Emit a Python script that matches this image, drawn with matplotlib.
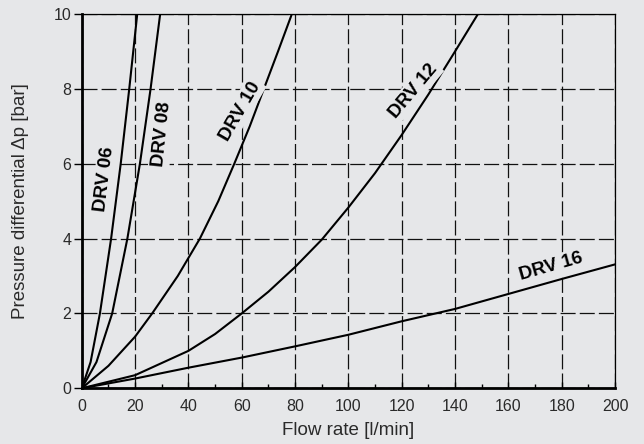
import matplotlib
matplotlib.use("Agg")
import matplotlib.pyplot as plt
from matplotlib.ticker import MultipleLocator

BG = "#e6e7e9"
plt.rcParams["font.family"] = ["Liberation Sans", "DejaVu Sans"]

# curves: flow [l/min] vs pressure differential [bar]
drv06_q = [0, 3.3, 6.8, 11.0, 14.6, 17.8, 20.8]
drv06_p = [0, 0.7, 2, 4, 6, 8, 10]
drv08_q = [0, 5.5, 11.4, 17.1, 21.8, 25.8, 29.4]
drv08_p = [0, 0.7, 2, 4, 6, 8, 10]
drv10_q = [0, 10, 20, 26.4, 36, 44.3, 51.2, 57.2, 63, 68.3, 73.6, 78.8]
drv10_p = [0, 0.6, 1.38, 2.0, 3.0, 4.0, 5.0, 6.0, 7.0, 8.0, 9.0, 10.0]
drv12_q = [0, 20, 40, 50, 60, 70, 80, 90, 100, 110, 120, 130, 140, 148.6]
drv12_p = [0, 0.35, 1.0, 1.45, 2.0, 2.58, 3.24, 3.97, 4.83, 5.75, 6.77, 7.85, 9.0, 10.0]
drv16_q = [0, 20, 40, 60, 80, 100, 120, 140, 160, 180, 200]
drv16_p = [0, 0.26, 0.55, 0.82, 1.12, 1.43, 1.79, 2.12, 2.52, 2.92, 3.31]

labels = ["DRV 06", "DRV 08", "DRV 10", "DRV 12", "DRV 16"]
label_q = [8.6, 30.1, 59.3, 124.5, 176]
label_p = [5.6, 6.8, 7.4, 7.95, 3.25]
label_rot = [83, 84, 60, 50, 16]

fig = plt.figure(figsize=(6.44, 4.44), dpi=100, facecolor=BG)
ax = fig.add_axes([0.127, 0.1255, 0.828, 0.843], facecolor=BG)

curves = [(drv06_q, drv06_p), (drv08_q, drv08_p), (drv10_q, drv10_p),
          (drv12_q, drv12_p), (drv16_q, drv16_p)]
for q, p in curves:
    ax.plot(q, p, color="black", lw=1.5, solid_joinstyle="round", zorder=3)

for t, x, y, r in zip(labels, label_q, label_p, label_rot):
    ax.text(x, y, t, rotation=r, ha="center", va="center", fontsize=13.5,
            fontweight="bold", color="black", zorder=4,
            bbox=dict(boxstyle="square,pad=0.12", fc=BG, ec="none"))

ax.set_xlim(0, 200)
ax.set_ylim(0, 10)
ax.xaxis.set_major_locator(MultipleLocator(20))
ax.xaxis.set_minor_locator(MultipleLocator(10))
ax.yaxis.set_major_locator(MultipleLocator(2))

ax.grid(True, which="major", color="#111", lw=0.9, ls=(0, (12, 3.3)), zorder=1)
ax.set_axisbelow(True)

for s in ("left", "bottom"):
    ax.spines[s].set_linewidth(2.0)
for s in ("top", "right"):
    ax.spines[s].set_linewidth(0.9)

ax.tick_params(axis="x", which="major", direction="in", length=4, width=1,
               labelsize=11.5, labelcolor="#2a2a2a", pad=7.5)
ax.tick_params(axis="x", which="minor", direction="in", length=3, width=1)
ax.tick_params(axis="y", which="major", direction="out", length=5.5, width=1,
               labelsize=11.5, labelcolor="#2a2a2a", pad=2)

ax.set_xlabel("Flow rate [l/min]", fontsize=13.5, color="#2a2a2a", labelpad=6)
ax.set_ylabel("Pressure differential \u0394p [bar]", fontsize=13.5, color="#2a2a2a",
              labelpad=18)

fig.savefig("out.png", dpi=100, facecolor=BG)
